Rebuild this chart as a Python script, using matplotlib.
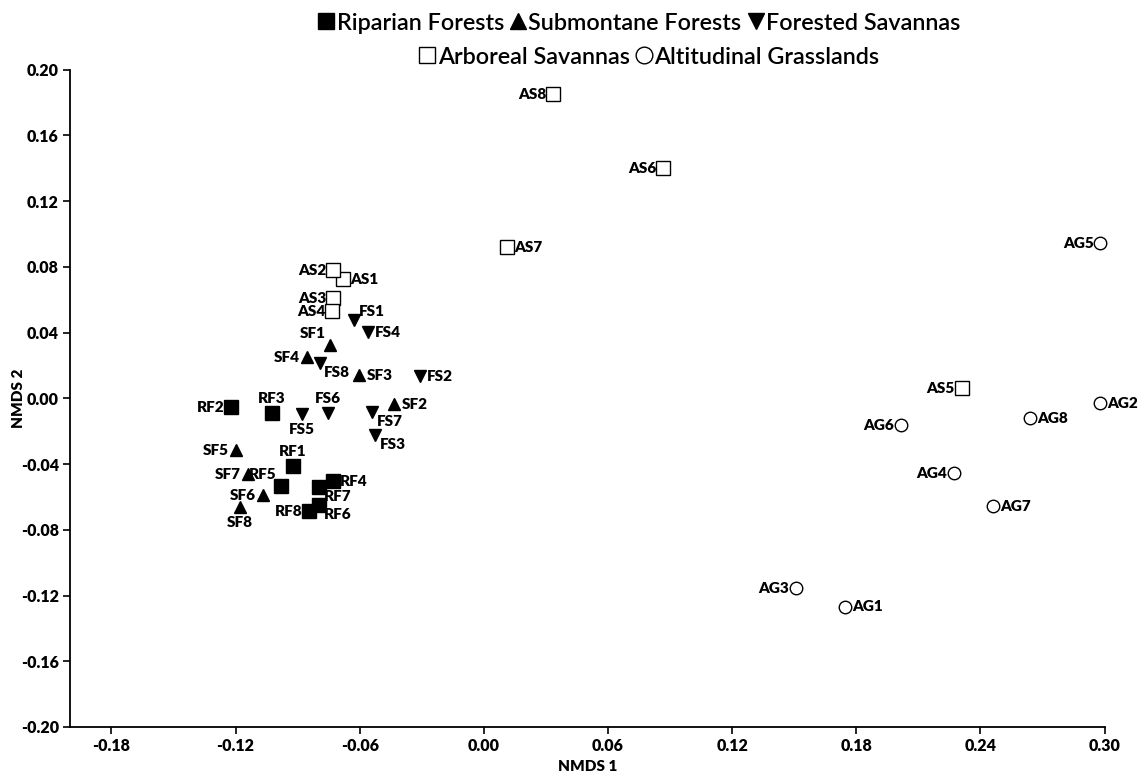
import matplotlib
matplotlib.use("Agg")
import matplotlib.pyplot as plt
from matplotlib.lines import Line2D

plt.rcParams["font.family"] = ["Lato", "DejaVu Sans"]

# --- NMDS scores ---
RF_LAB = ["RF1", "RF2", "RF3", "RF4", "RF5", "RF6", "RF7", "RF8"]
RF_X = [-0.0922, -0.1222, -0.1023, -0.0728, -0.0980, -0.0795, -0.0795, -0.0844]
RF_Y = [-0.0414, -0.0055, -0.0091, -0.0505, -0.0536, -0.0652, -0.0542, -0.0688]

SF_LAB = ["SF1", "SF2", "SF3", "SF4", "SF5", "SF6", "SF7", "SF8"]
SF_X = [-0.0742, -0.0432, -0.0601, -0.0854, -0.1198, -0.1067, -0.1140, -0.1179]
SF_Y = [0.0323, -0.0037, 0.0140, 0.0250, -0.0317, -0.0591, -0.0463, -0.0664]

FS_LAB = ["FS1", "FS2", "FS3", "FS4", "FS5", "FS6", "FS7", "FS8"]
FS_X = [-0.0626, -0.0310, -0.0524, -0.0558, -0.0878, -0.0752, -0.0538, -0.0791]
FS_Y = [0.0475, 0.0134, -0.0225, 0.0402, -0.0097, -0.0091, -0.0085, 0.0213]

AS_LAB = ["AS1", "AS2", "AS3", "AS4", "AS5", "AS6", "AS7", "AS8"]
AS_X = [-0.0679, -0.0728, -0.0728, -0.0732, 0.2310, 0.0868, 0.0112, 0.0335]
AS_Y = [0.0725, 0.0780, 0.0609, 0.0530, 0.0061, 0.1400, 0.0920, 0.1850]

AG_LAB = ["AG1", "AG2", "AG3", "AG4", "AG5", "AG6", "AG7", "AG8"]
AG_X = [0.1746, 0.2980, 0.1510, 0.2270, 0.2980, 0.2017, 0.2460, 0.2640]
AG_Y = [-0.1267, -0.0030, -0.1157, -0.0457, 0.0944, -0.0164, -0.0658, -0.0122]

X_TICKS = [-0.18, -0.12, -0.06, 0.00, 0.06, 0.12, 0.18, 0.24, 0.30]
Y_TICKS = [-0.20, -0.16, -0.12, -0.08, -0.04, 0.00, 0.04, 0.08, 0.12, 0.16, 0.20]

# where each label sits relative to its point
LABEL_POS = {
    "RF1": "a", "RF2": "l", "RF3": "a", "RF4": "r", "RF5": "la", "RF6": "rb",
    "RF7": "rb", "RF8": "l",
    "SF1": "la", "SF2": "r", "SF3": "r", "SF4": "l", "SF5": "l", "SF6": "l",
    "SF7": "l", "SF8": "b",
    "FS1": "ra", "FS2": "r", "FS3": "rb", "FS4": "r", "FS5": "b", "FS6": "a",
    "FS7": "rb", "FS8": "rb",
    "AS1": "r", "AS2": "l", "AS3": "l", "AS4": "l", "AS5": "l", "AS6": "l",
    "AS7": "r", "AS8": "l",
    "AG1": "r", "AG2": "r", "AG3": "l", "AG4": "l", "AG5": "l", "AG6": "l",
    "AG7": "r", "AG8": "r",
}
OFFSETS = {
    "l": (-5, 0, "right", "center"),
    "r": (5, 0, "left", "center"),
    "a": (0, 6, "center", "bottom"),
    "b": (0, -6, "center", "top"),
    "la": (-3, 4, "right", "bottom"),
    "ra": (3, 2, "left", "bottom"),
    "rb": (3, -2, "left", "top"),
}

groups = [
    ("Riparian Forests", RF_LAB, RF_X, RF_Y, "s", "black", 10),
    ("Submontane Forests", SF_LAB, SF_X, SF_Y, "^", "black", 9),
    ("Forested Savannas", FS_LAB, FS_X, FS_Y, "v", "black", 9),
    ("Arboreal Savannas", AS_LAB, AS_X, AS_Y, "s", "white", 10),
    ("Altitudinal Grasslands", AG_LAB, AG_X, AG_Y, "o", "white", 9),
]

fig = plt.figure(figsize=(11.47, 7.75), dpi=100)
ax = fig.add_axes([0.061, 0.062, 0.902, 0.848])

handles = []
for name, labs, xs, ys, mk, fc, ms in groups:
    ax.plot(xs, ys, ls="none", marker=mk, ms=ms, mfc=fc, mec="black",
            mew=1.0, clip_on=False)
    handles.append(Line2D([], [], ls="none", marker=mk, ms=12, mfc=fc,
                          mec="black", mew=1.0, label=name))
    for lab, x, y in zip(labs, xs, ys):
        dx, dy, ha, va = OFFSETS[LABEL_POS[lab]]
        ax.annotate(lab, (x, y), xytext=(dx, dy), textcoords="offset points",
                    ha=ha, va=va, fontsize=11, fontweight="heavy")

ax.set_xlim(-0.20, 0.30)
ax.set_ylim(-0.20, 0.20)
ax.set_xticks(X_TICKS)
ax.set_yticks(Y_TICKS)
ax.set_xticklabels([f"{v:.2f}" for v in X_TICKS], fontsize=11.5, fontweight="heavy")
ax.set_yticklabels([f"{v:.2f}" for v in Y_TICKS], fontsize=11.5, fontweight="heavy")
ax.tick_params(direction="out", length=5, width=1.2, pad=3)
for s in ["top", "right"]:
    ax.spines[s].set_visible(False)
for s in ["left", "bottom"]:
    ax.spines[s].set_linewidth(1.3)
ax.set_xlabel("NMDS 1", fontsize=11, fontweight="heavy", labelpad=4)
ax.set_ylabel("NMDS 2", fontsize=11, fontweight="heavy")
ax.yaxis.set_label_coords(-0.043, 0.5)

leg_kw = dict(frameon=False, prop=dict(size=16.8, weight="semibold"),
              handletextpad=0.0, columnspacing=0.15, handlelength=0.9,
              borderaxespad=0, borderpad=0)
leg1 = fig.legend(handles=handles[:3], ncol=3, loc="center",
                  bbox_to_anchor=(638 / 1147, 1 - 23 / 775), **leg_kw)
leg2 = fig.legend(handles=handles[3:], ncol=2, loc="center",
                  bbox_to_anchor=(648 / 1147, 1 - 57 / 775), **leg_kw)

fig.savefig("out.png", dpi=100)
